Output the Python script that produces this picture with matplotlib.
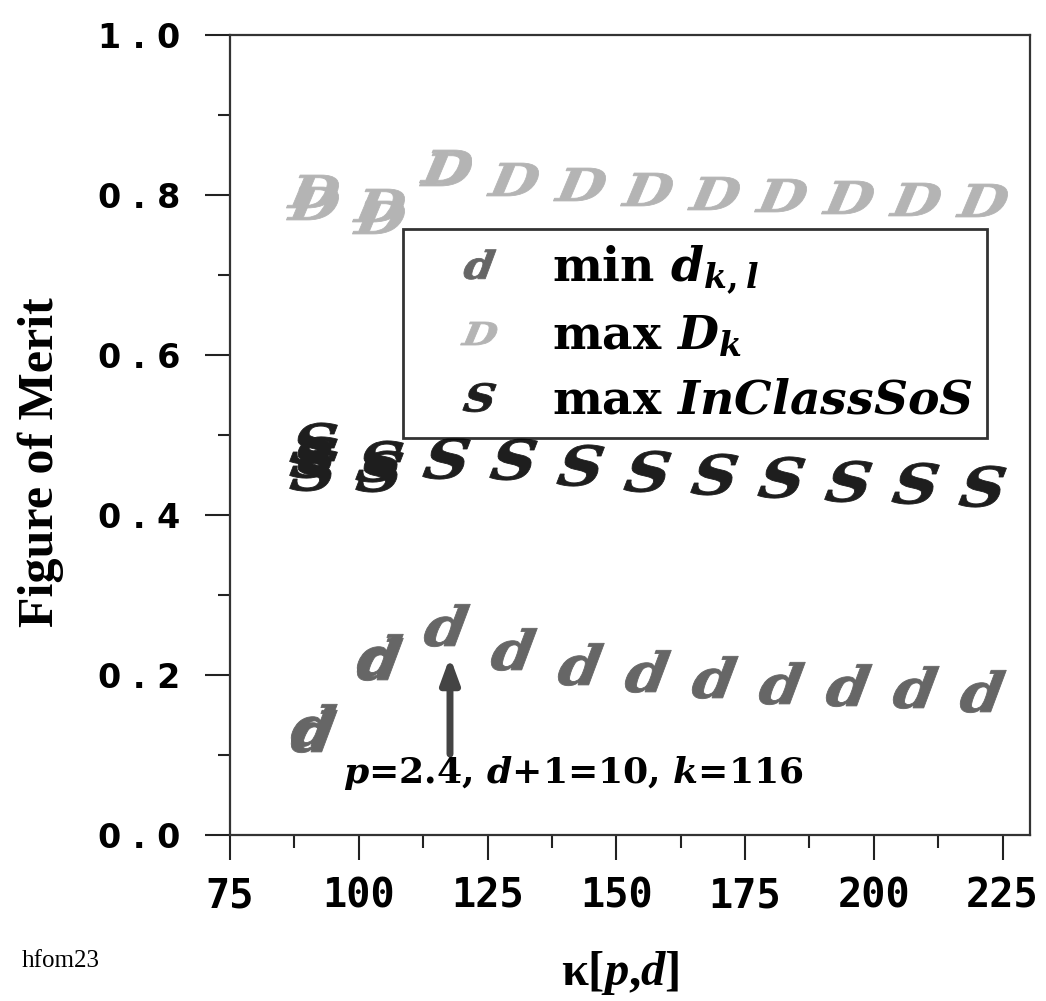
import matplotlib
matplotlib.use('Agg')
import matplotlib.pyplot as plt
from matplotlib.ticker import FixedLocator, MultipleLocator
from matplotlib.textpath import TextPath
from matplotlib.font_manager import FontProperties
from matplotlib.transforms import Affine2D

plt.rcParams['mathtext.fontset'] = 'custom'
plt.rcParams['mathtext.it'] = 'DejaVu Serif:italic:bold'
plt.rcParams['mathtext.rm'] = 'DejaVu Serif:bold'
plt.rcParams['mathtext.bf'] = 'DejaVu Serif:bold'
plt.rcParams['mathtext.sf'] = 'Liberation Serif:italic:bold'
plt.rcParams['mathtext.default'] = 'it'

# ---- data ----
kappa_D = [91, 91, 104, 104, 117, 117, 130, 143, 156, 169, 182, 195, 208, 221]
fom_D = [0.805, 0.79, 0.787, 0.772, 0.836, 0.832, 0.82, 0.814, 0.807, 0.803, 0.80, 0.797, 0.795, 0.794]

kappa_S = [91, 91, 91, 104, 104, 117, 130, 143, 156, 169, 182, 195, 208, 221]
fom_S = [0.49, 0.473, 0.456, 0.468, 0.455, 0.471, 0.47, 0.4625, 0.455, 0.451, 0.4475, 0.4425, 0.44, 0.436]

kappa_d = [91, 91, 104, 104, 117, 130, 143, 156, 169, 182, 195, 208, 221]
fom_d = [0.137, 0.13, 0.225, 0.22, 0.2625, 0.232, 0.214, 0.205, 0.197, 0.19, 0.1875, 0.185, 0.18]

xticks = [75, 100, 125, 150, 175, 200, 225]
xtick_labels = ['75', '100', '125', '150', '175', '200', '225']
yticks = [0.0, 0.2, 0.4, 0.6, 0.8, 1.0]
ytick_labels = ['0 . 0', '0 . 2', '0 . 4', '0 . 6', '0 . 8', '1 . 0']

labels = [r'min $d_{k,l}$', r'max $D_k$', r'max $InClassSoS$']


def glyph(ch, stretch=1.2, skew=8):
    fp = FontProperties(family='DejaVu Serif', style='italic', weight='bold')
    tp = TextPath((0, 0), ch, size=1, prop=fp)
    ext = tp.get_extents()
    cx, cy = (ext.x0 + ext.x1) / 2, (ext.y0 + ext.y1) / 2
    return tp.transformed(Affine2D().translate(-cx, -cy).skew_deg(skew, 0).scale(stretch, 1.0))


# ---- figure ----
fig = plt.figure(figsize=(10.46, 10.01), dpi=100)
ax = fig.add_axes([0.22, 0.166, 0.765, 0.799])

hd, = ax.plot(kappa_d, fom_d, linestyle='none', marker=glyph('d', 1.12), markersize=35,
              color='#666666', mew=0.6, label=labels[0])
hD, = ax.plot(kappa_D, fom_D, linestyle='none', marker=glyph('D', 1.25), markersize=39,
              color='#b4b4b4', mew=0.6, label=labels[1])
hS, = ax.plot(kappa_S, fom_S, linestyle='none', marker=glyph('S', 1.15), markersize=36,
              color='#1e1e1e', mew=0.6, label=labels[2])

ax.set_xlim(75, 230.4)
ax.set_ylim(0, 1.0)

ax.xaxis.set_major_locator(FixedLocator(xticks))
ax.set_xticklabels(xtick_labels, family='DejaVu Sans Mono', fontweight='bold', fontsize=29)
ax.xaxis.set_minor_locator(MultipleLocator(12.5))
ax.yaxis.set_major_locator(FixedLocator(yticks))
ax.set_yticklabels(ytick_labels, family='DejaVu Sans', fontweight='bold', fontsize=24)
ax.yaxis.set_minor_locator(MultipleLocator(0.1))

ax.tick_params(which='major', direction='out', length=18, width=1.5, color='#222222', pad=6)
ax.tick_params(which='minor', direction='out', length=9, width=1.5, color='#222222')
ax.tick_params(axis='x', which='major', pad=12)
ax.tick_params(axis='y', which='major', pad=18)
for s in ax.spines.values():
    s.set_linewidth(1.6)
    s.set_color('#333333')

ax.set_ylabel('Figure of Merit', family='Liberation Serif', fontweight='bold', fontsize=36)
ax.yaxis.set_label_coords(-0.208, 0.466)
fig.text(0.593, 0.028, r'κ[$\mathsf{p}$,$\mathsf{d}$]', family='Liberation Serif', fontweight='bold',
         ha='center', va='center', fontsize=35)
fig.text(0.021, 0.04, 'hfom23', family='Liberation Serif', fontsize=18, ha='left', va='center')

# annotation
ax.annotate('', xy=(117.7, 0.226), xytext=(117.7, 0.0975),
            arrowprops=dict(arrowstyle='-|>,head_length=1.5,head_width=0.55', color='#444444', lw=5))
ax.text(97.0, 0.077, r'$p$=2.4, $d$+1=10, $k$=116', family='DejaVu Serif', fontweight='bold',
        fontsize=26, ha='left', va='center')

leg = ax.legend(handles=[hd, hD, hS], loc='upper left', bbox_to_anchor=(0.216, 0.7575),
                borderaxespad=0, frameon=True, fancybox=False, edgecolor='black',
                markerscale=0.7, prop={'family': 'DejaVu Serif', 'weight': 'bold', 'size': 34},
                handlelength=2.6, handletextpad=0.25, labelspacing=0.38, borderpad=0.3)
leg.get_frame().set_linewidth(2)

fig.savefig('out.png', dpi=100)
